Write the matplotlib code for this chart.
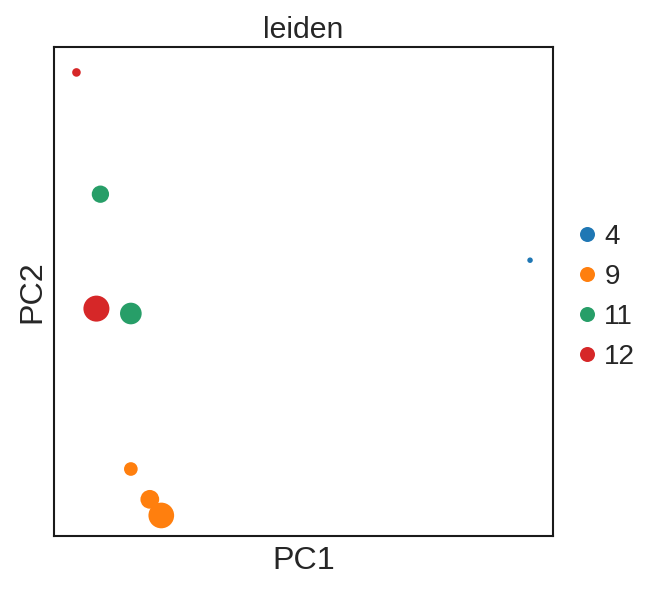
import matplotlib
matplotlib.use("Agg")
import matplotlib.pyplot as plt
from matplotlib.lines import Line2D

plt.rcParams['font.family'] = ['Liberation Sans', 'DejaVu Sans']
plt.rcParams['text.color'] = '#262626'
plt.rcParams['axes.labelcolor'] = '#262626'

# leiden clusters and their colours
categories = ['4', '9', '11', '12']
colors = ['#1f77b4', '#ff7f0e', '#279e68', '#d62728']

# points (PC coordinates in arbitrary units, cluster, dot size)
pc1 = [9.54, 1.54, 1.92, 2.15, 0.93, 1.54, 0.45, 0.85]
pc2 = [5.64, 1.37, 0.75, 0.42, 6.99, 4.55, 9.48, 4.65]
cluster = ['4', '9', '9', '9', '11', '11', '12', '12']
size = [7, 43, 81, 152, 69, 108, 17, 156]

fig = plt.figure(figsize=(663 / 150, 592 / 150), dpi=150)
ax = fig.add_axes([54 / 663, 1 - 536 / 592, 499 / 663, 489 / 592])

cmap = dict(zip(categories, colors))
ax.scatter(pc1, pc2, s=size, c=[cmap[c] for c in cluster], linewidths=0)

ax.set_xlim(0, 10)
ax.set_ylim(0, 10)
ax.set_xticks([])
ax.set_yticks([])
for sp in ax.spines.values():
    sp.set_color('#1a1a1a')
    sp.set_linewidth(1.0)

ax.set_title('leiden', fontsize=14.5, pad=4.2)
ax.set_xlabel('PC1', fontsize=15.5, labelpad=5)
ax.set_ylabel('PC2', fontsize=15.5, labelpad=3.4)

handles = [Line2D([], [], marker='o', linestyle='', markersize=7.2,
                  markerfacecolor=col, markeredgewidth=0, label=cat)
           for cat, col in zip(categories, colors)]
ax.legend(handles=handles, loc='center left', bbox_to_anchor=(1, 0.489),
          frameon=False, fontsize=13.4, handlelength=0.5, handletextpad=0.38,
          borderaxespad=0.5, borderpad=0.457, labelspacing=0.5)

fig.savefig('out.png', dpi=150)
